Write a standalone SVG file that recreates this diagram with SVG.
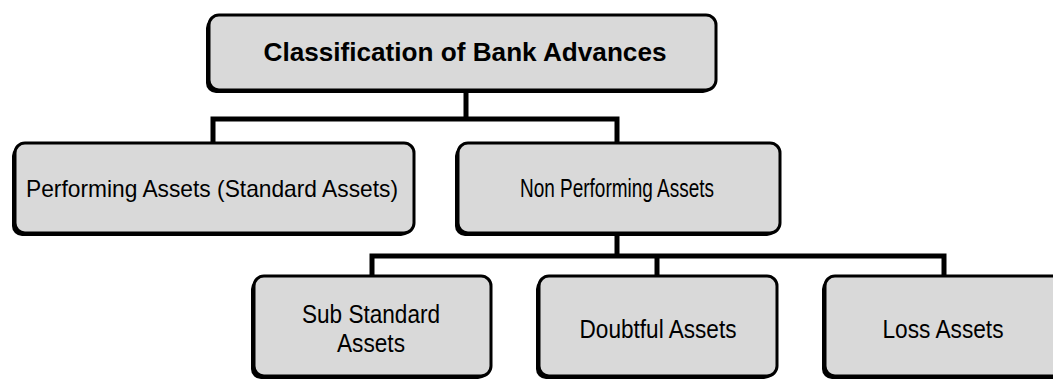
<svg xmlns="http://www.w3.org/2000/svg" width="1053" height="380" viewBox="0 0 1053 380">
<style>
.sh{fill:#000}
.box{fill:#d9d9d9;stroke:#000;stroke-width:3}
.t{font-family:"Liberation Sans",Arial,sans-serif;font-size:25px;fill:#000;text-anchor:middle}
.tb{font-weight:bold;font-size:26px}
.c{fill:none;stroke:#000;stroke-width:5}
</style>
<rect width="1053" height="380" fill="#fff"/>
<g id="connectors">
<path class="c" d="M466 90V119M213 143V119H617V143M617 233V256M372 276V256H944V276M657 256V276"/>
</g>
<g id="root">
<rect class="sh" x="206" y="18" width="507" height="75" rx="10"/>
<rect class="box" x="209" y="15" width="507" height="75" rx="10"/>
<text class="t tb" x="465" y="61" textLength="403" lengthAdjust="spacingAndGlyphs">Classification of Bank Advances</text>
</g>
<g id="performing">
<rect class="sh" x="12" y="146" width="399" height="90" rx="10"/>
<rect class="box" x="15" y="143" width="399" height="90" rx="10"/>
<text class="t" x="212" y="197" style="font-size:24px" textLength="372" lengthAdjust="spacingAndGlyphs">Performing Assets (Standard Assets)</text>
</g>
<g id="npa">
<rect class="sh" x="455" y="146" width="322" height="90" rx="10"/>
<rect class="box" x="458" y="143" width="322" height="90" rx="10"/>
<text class="t" x="617" y="197" textLength="194" lengthAdjust="spacingAndGlyphs">Non Performing Assets</text>
</g>
<g id="substandard">
<rect class="sh" x="251" y="279" width="237" height="100" rx="10"/>
<rect class="box" x="254" y="276" width="237" height="100" rx="10"/>
<text class="t" x="371" y="323" textLength="138" lengthAdjust="spacingAndGlyphs">Sub Standard</text>
<text class="t" x="371" y="352" textLength="68" lengthAdjust="spacingAndGlyphs">Assets</text>
</g>
<g id="doubtful">
<rect class="sh" x="536" y="279" width="238" height="100" rx="10"/>
<rect class="box" x="539" y="276" width="238" height="100" rx="10"/>
<text class="t" x="658" y="338" textLength="157" lengthAdjust="spacingAndGlyphs">Doubtful Assets</text>
</g>
<g id="loss">
<rect class="sh" x="822" y="279" width="250" height="100" rx="10"/>
<rect class="box" x="825" y="276" width="250" height="100" rx="10"/>
<text class="t" x="943" y="338" textLength="121" lengthAdjust="spacingAndGlyphs">Loss Assets</text>
</g>
</svg>
